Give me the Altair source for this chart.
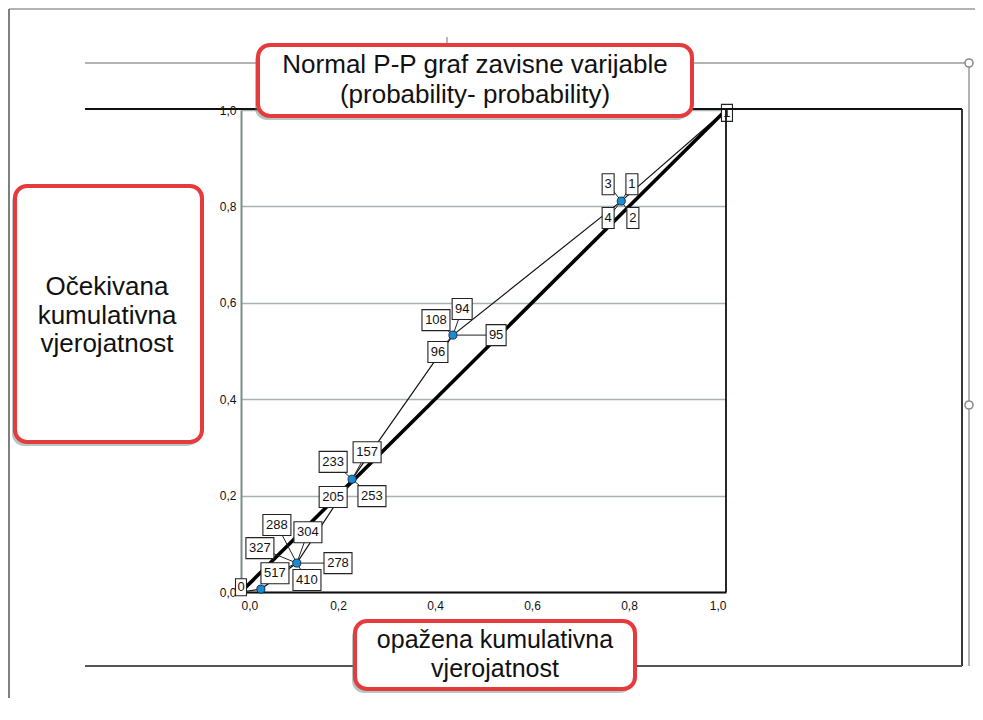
import altair as alt
import pandas as pd

# ---------------- data ----------------
pts_x = [0.041, 0.115, 0.229, 0.437, 0.784]
pts_y = [0.006, 0.060, 0.234, 0.533, 0.811]
path_x = [0.0] + pts_x + [1.0]
path_y = [0.0] + pts_y + [1.0]
ref_x = [0.0, 1.0]
ref_y = [0.0, 1.0]

label_text = ["3", "1", "4", "2", "108", "94", "96", "95", "233", "157", "205", "253",
              "288", "304", "327", "517", "278", "410", "0", "1"]
label_x = [0.757, 0.806, 0.757, 0.808, 0.402, 0.456, 0.406, 0.526, 0.190, 0.260, 0.190, 0.270,
           0.074, 0.138, 0.039, 0.070, 0.200, 0.136, 0.000, 1.002]
label_y = [0.846, 0.846, 0.776, 0.776, 0.564, 0.587, 0.498, 0.533, 0.270, 0.290, 0.197, 0.199,
           0.139, 0.124, 0.091, 0.039, 0.060, 0.025, 0.010, 0.994]
label_pt = [4, 4, 4, 4, 3, 3, 3, 3, 2, 2, 2, 2, 1, 1, 1, 1, 1, 1, -1, -1]

tick_vals = [0.0, 0.2, 0.4, 0.6, 0.8, 1.0]

title_lines = ["Normal P-P graf zavisne varijable", "(probability- probability)"]
ylab_lines = ["Očekivana", "kumulativna", "vjerojatnost"]
xlab_lines = ["opažena kumulativna", "vjerojatnost"]

# ---------------- layout ----------------
OX, OY = 241, 110      # page position of plot origin (top-left)
W, H = 485, 482
FONT = "Liberation Sans"
TOTAL_W, TOTAL_H = 967, 690


def px(x):
    return x - OX


def py(y):
    return y - OY


one = pd.DataFrame({"k": [0]})


def hrule(x1, x2, y, color, w):
    return alt.Chart(one).mark_rule(color=color, strokeWidth=w).encode(
        x=alt.value(px(x1)), x2=alt.value(px(x2)), y=alt.value(py(y)))


def vrule(x, y1, y2, color, w):
    return alt.Chart(one).mark_rule(color=color, strokeWidth=w).encode(
        x=alt.value(px(x)), y=alt.value(py(y1)), y2=alt.value(py(y2)))


def handle(x, y):
    return alt.Chart(one).mark_point(shape="circle", size=64, filled=True, fill="white",
                                     stroke="#8c8c8c", strokeWidth=1.6, opacity=1).encode(
        x=alt.value(px(x)), y=alt.value(py(y)))


def callout(x1, y1, x2, y2):
    shadow = alt.Chart(one).mark_rect(cornerRadius=12, fill="#5f7f7f", opacity=0.45).encode(
        x=alt.value(px(x1) - 3), x2=alt.value(px(x2) - 3),
        y=alt.value(py(y1) + 4), y2=alt.value(py(y2) + 4))
    rect = alt.Chart(one).mark_rect(cornerRadius=12, fill="white", stroke="#e63b3d",
                                    strokeWidth=4).encode(
        x=alt.value(px(x1)), x2=alt.value(px(x2)),
        y=alt.value(py(y1)), y2=alt.value(py(y2)))
    return [shadow, rect]


def txt(x, y, s, size=26):
    return alt.Chart(one).mark_text(text=s, font=FONT, fontSize=size, color="#111",
                                    align="center", baseline="middle").encode(
        x=alt.value(px(x)), y=alt.value(py(y)))


# ---------------- data layers ----------------
xs = alt.Scale(domain=[0, 1], nice=False, zero=False)
ys = alt.Scale(domain=[0, 1], nice=False, zero=False)
fmt = "replace(format(datum.value, '.1f'), '.', ',')"

path_df = pd.DataFrame({"x": path_x, "y": path_y, "i": list(range(len(path_x)))})
ref_df = pd.DataFrame({"x": ref_x, "y": ref_y})
pts_df = pd.DataFrame({"x": pts_x, "y": pts_y})
lab_df = pd.DataFrame({"t": label_text, "lx": label_x, "ly": label_y, "p": label_pt})
lab_df["n"] = lab_df["t"].str.len()
lab_df.loc[lab_df["p"] < 0, "n"] = 0
lead_df = lab_df[lab_df["p"] >= 0].copy()
lead_df["px"] = [pts_x[i] for i in lead_df["p"]]
lead_df["py"] = [pts_y[i] for i in lead_df["p"]]

x_axis = alt.Axis(values=tick_vals, labelExpr=fmt, grid=False, ticks=False, domain=True,
                  domainColor="#111", domainWidth=2, labelPadding=8, labelFontSize=12,
                  labelFont=FONT, labelColor="#111", title=None)
y_axis = alt.Axis(values=tick_vals, labelExpr=fmt, grid=True, gridColor="#a7b3b3", gridWidth=1.6,
                  ticks=False, domain=True, domainColor="#7f8b8b", domainWidth=2, labelPadding=5,
                  labelFontSize=12, labelFont=FONT, labelColor="#111", title=None)


def X(field):
    return alt.X(field, scale=xs, axis=x_axis, title=None)


def Y(field):
    return alt.Y(field, scale=ys, axis=y_axis, title=None)


path_layer = alt.Chart(path_df).mark_line(color="#111", strokeWidth=1.2).encode(
    x=X("x:Q"), y=Y("y:Q"), order="i:Q")

ref_layer = alt.Chart(ref_df).mark_line(color="black", strokeWidth=3.6).encode(
    x=X("x:Q"), y=Y("y:Q"))

lead_layer = alt.Chart(lead_df).mark_rule(color="#222", strokeWidth=1).encode(
    x=X("px:Q"), y=Y("py:Q"), x2="lx:Q", y2="ly:Q")

pts_layer = alt.Chart(pts_df).mark_point(shape="circle", filled=True, size=65, fill="#1d8bd4",
                                         stroke="#11314a", strokeWidth=1, opacity=1).encode(
    x=X("x:Q"), y=Y("y:Q"))

box_w = {0: 11, 1: 12, 2: 20, 3: 28}
box_h = {0: 17, 1: 21, 2: 21, 3: 21}
box_layers = []
for n in [0, 1, 2, 3]:
    w, h = box_w[n], box_h[n]
    box_layers.append(
        alt.Chart(lab_df).transform_filter(f"datum.n == {n}").mark_rect(
            fill="white", stroke="#222", strokeWidth=1.1,
            xOffset=-w / 2, x2Offset=w / 2, yOffset=-h / 2, y2Offset=h / 2).encode(
            x=X("lx:Q"), x2="lx:Q", y=Y("ly:Q"), y2="ly:Q"))

lab_text_layer = alt.Chart(lab_df).mark_text(font=FONT, fontSize=13, color="#111",
                                             align="center", baseline="middle").encode(
    x=X("lx:Q"), y=Y("ly:Q"), text="t:N")

# ---------------- decorations (screenshot frame) ----------------
deco = [
    hrule(9, 975, 9, "#9a9a9a", 1.5),
    vrule(9, 9, 720, "#555555", 1.5),
    hrule(85, 969, 63, "#9a9a9a", 1.5),
    vrule(969, 63, 666, "#9a9a9a", 1.5),
    vrule(447, 37, 50, "#8a8a8a", 1.2),
    hrule(85, 962, 109, "#111", 1.8),
    vrule(962, 109, 666, "#222", 1.8),
    hrule(85, 962, 666, "#555", 2.2),
    vrule(726, 109, 592, "#111", 1.8),
    hrule(178, 190, 443, "#222", 2),
    handle(969, 63),
    handle(969, 405),
]

boxes = []
boxes += callout(258, 45, 692, 116)
boxes += [txt(475, 65, title_lines[0]), txt(475, 95, title_lines[1])]
boxes += callout(15, 186, 202, 442)
boxes += [txt(107, 287, ylab_lines[0]), txt(107, 316, ylab_lines[1]), txt(107, 344, ylab_lines[2])]
boxes += callout(355, 621, 635, 689)
boxes += [txt(495, 640, xlab_lines[0], 25), txt(495, 669, xlab_lines[1], 25)]

layers = [path_layer, ref_layer, lead_layer, pts_layer] + box_layers + [lab_text_layer] + deco + boxes

chart = alt.layer(*layers).properties(
    width=W, height=H,
    autosize=alt.AutoSizeParams(type="none"),
    padding={"left": OX - 8, "top": OY - 8,
             "right": TOTAL_W - (OX - 8) - W, "bottom": TOTAL_H - (OY - 8) - H},
).configure_view(stroke=None)

chart.save("out.html", embed_options={"renderer": "svg", "actions": False})
